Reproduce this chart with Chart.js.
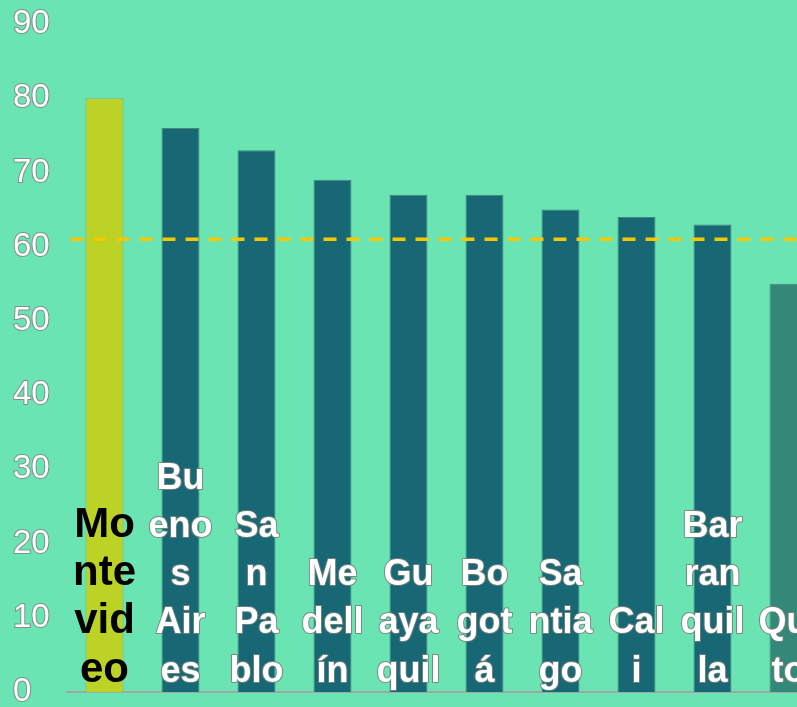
<!DOCTYPE html>
<html>
<head>
<meta charset="utf-8">
<script src="https://cdn.jsdelivr.net/npm/chart.js@4"></script>
<style>
  html, body { margin: 0; padding: 0; background: #6be4b3; }
  #wrap { width: 797px; height: 707px; overflow: hidden; position: relative; }
  canvas { display: block; }
</style>
</head>
<body>
<div id="wrap">
  <canvas id="cityChart" width="840" height="720"></canvas>
</div>
<script>
const categories = ['Montevideo', 'Buenos Aires', 'San Pablo', 'Medellín', 'Guayaquil', 'Bogotá', 'Santiago', 'Cali', 'Barranquilla', 'Quito'];
const values = [80, 76, 73, 69, 67, 67, 65, 64, 63, 55];
const targetValue = 61;
const yMin = 0;
const yMax = 90;
const yStep = 10;

const theme = {
  bg: '#6be4b3',
  teal: '#176874',
  highlight: '#bcd326',
  last: '#338878',
  target: '#f7c800',
  axis: '#a0a8a4',
  font: '"Liberation Sans", Arial, sans-serif',
};

const barColors = values.map((_, i) => {
  if (i === 0) return theme.highlight;
  if (i === values.length - 1) return theme.last;
  return theme.teal;
});
const borderColors = values.map((_, i) => (i === 0 ? '#8fb060' : 'rgba(60,110,105,0.8)'));

// split a name into lines that fit the bar slot, breaking inside words when needed
const wrapLabel = (ctx, text, maxWidth) => {
  const lines = [];
  let current = '';
  text.split(' ').forEach((word) => {
    const tryLine = current ? current + ' ' + word : word;
    if (ctx.measureText(tryLine).width <= maxWidth) {
      current = tryLine;
      return;
    }
    if (current) lines.push(current);
    current = '';
    for (const ch of word) {
      if (ctx.measureText(current + ch).width <= maxWidth || !current) {
        current += ch;
      } else {
        lines.push(current);
        current = ch;
      }
    }
  });
  if (current) lines.push(current);
  return lines;
};

const backgroundPlugin = {
  id: 'bg',
  beforeDraw(chart) {
    const { ctx } = chart;
    ctx.save();
    ctx.fillStyle = theme.bg;
    ctx.fillRect(0, 0, chart.width, chart.height);
    ctx.restore();
  },
};

const targetLinePlugin = {
  id: 'targetLine',
  afterDatasetsDraw(chart) {
    const { ctx, chartArea } = chart;
    const y = chart.scales.y.getPixelForValue(targetValue);
    ctx.save();
    ctx.strokeStyle = theme.target;
    ctx.lineWidth = 3.5;
    ctx.setLineDash([13, 10]);
    ctx.beginPath();
    ctx.moveTo(chartArea.left + 4, y);
    ctx.lineTo(chart.width, y);
    ctx.stroke();
    ctx.restore();
  },
};

const barLabelPlugin = {
  id: 'barLabels',
  afterDatasetsDraw(chart) {
    const { ctx } = chart;
    const meta = chart.getDatasetMeta(0);
    const base = chart.scales.y.getPixelForValue(0);
    const lineStep = 48.3;
    ctx.save();
    ctx.textAlign = 'center';
    ctx.textBaseline = 'alphabetic';
    meta.data.forEach((bar, i) => {
      const isFirst = i === 0;
      ctx.font = 'bold ' + (isFirst ? 42 : 36) + 'px ' + theme.font;
      const lines = wrapLabel(ctx, categories[i], 65);
      lines.forEach((line, j) => {
        const y = base - 10.3 - (lines.length - 1 - j) * lineStep;
        if (isFirst) {
          ctx.fillStyle = '#000';
          ctx.fillText(line, bar.x, y);
        } else {
          ctx.lineWidth = 2;
          ctx.strokeStyle = 'rgba(120,130,125,0.9)';
          ctx.lineJoin = 'round';
          ctx.strokeText(line, bar.x, y);
          ctx.fillStyle = '#fff';
          ctx.fillText(line, bar.x, y);
        }
      });
    });
    ctx.restore();
  },
};

new Chart(document.getElementById('cityChart'), {
  type: 'bar',
  data: {
    labels: categories,
    datasets: [
      {
        data: values,
        backgroundColor: barColors,
        borderColor: borderColors,
        borderWidth: 1,
        barPercentage: 0.5,
        categoryPercentage: 1,
      },
    ],
  },
  options: {
    responsive: false,
    animation: false,
    layout: {
      padding: { left: 13, top: 24, right: 13.5, bottom: 28 },
    },
    plugins: {
      legend: { display: false },
      tooltip: { enabled: false },
    },
    scales: {
      x: {
        grid: { display: false, drawTicks: false },
        ticks: { display: false },
        border: { display: true, color: theme.axis, width: 2 },
      },
      y: {
        min: yMin,
        max: yMax,
        grid: { display: false, drawTicks: false },
        border: { display: false },
        afterFit: (scale) => {
          scale.width = 53.5;
        },
        ticks: {
          stepSize: yStep,
          crossAlign: 'far',
          padding: 0,
          color: '#ffffff',
          textStrokeColor: 'rgba(130,135,132,0.9)',
          textStrokeWidth: 2,
          font: { family: theme.font, size: 33 },
        },
      },
    },
  },
  plugins: [backgroundPlugin, targetLinePlugin, barLabelPlugin],
});
</script>
</body>
</html>
